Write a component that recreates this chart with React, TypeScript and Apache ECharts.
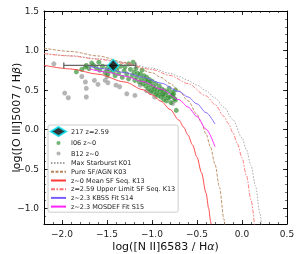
import React, { useEffect, useRef } from "react";
import * as echarts from "echarts";

// ---- axes ----
const xMajor = [-2.0, -1.5, -1.0, -0.5, 0.0, 0.5];
const yMajor = [-1.0, -0.5, 0.0, 0.5, 1.0, 1.5];

// ---- demarcation / fit curves ----
const k01 = [
  [-2.2, 0.962], [-1.9, 0.933], [-1.6, 0.895], [-1.3, 0.845], [-1.0, 0.775],
  [-0.8, 0.71], [-0.7, 0.669], [-0.6, 0.62], [-0.5, 0.561], [-0.4, 0.489],
  [-0.3, 0.398], [-0.2, 0.28], [-0.1, 0.12], [0.0, -0.108], [0.05, -0.262],
  [0.1, -0.459], [0.15, -0.716], [0.2, -1.069], [0.22, -1.25],
];
const k03 = [
  [-2.2, 1.029], [-1.9, 0.987], [-1.6, 0.93], [-1.3, 0.848], [-1.0, 0.719],
  [-0.9, 0.658], [-0.8, 0.582], [-0.7, 0.487], [-0.6, 0.362], [-0.5, 0.191],
  [-0.45, 0.08], [-0.4, -0.056], [-0.35, -0.225], [-0.3, -0.443], [-0.25, -0.733],
  [-0.2, -1.14], [-0.19, -1.242],
];
const k13Mean = [
  [-2.2, 0.812], [-1.9, 0.765], [-1.6, 0.699], [-1.3, 0.6], [-1.1, 0.502],
  [-1.0, 0.437], [-0.9, 0.356], [-0.8, 0.253], [-0.7, 0.116], [-0.65, 0.03],
  [-0.6, -0.073], [-0.55, -0.198], [-0.5, -0.352], [-0.45, -0.549], [-0.4, -0.806],
  [-0.37, -1.003], [-0.35, -1.159], [-0.34, -1.246],
];
const k13Upper = [
  [-2.2, 0.96], [-1.9, 0.929], [-1.6, 0.889], [-1.3, 0.835], [-1.0, 0.757],
  [-0.8, 0.683], [-0.6, 0.58], [-0.4, 0.425], [-0.3, 0.314], [-0.2, 0.165],
  [-0.15, 0.07], [-0.1, -0.045], [-0.05, -0.185], [0.0, -0.361], [0.05, -0.589],
  [0.1, -0.894], [0.14, -1.226],
];
const s14 = [
  [-1.7, 0.8], [-1.5, 0.764], [-1.3, 0.719], [-1.1, 0.661], [-0.9, 0.585],
  [-0.7, 0.48], [-0.6, 0.41], [-0.5, 0.323], [-0.4, 0.212], [-0.3, 0.067],
];
const s15 = [
  [-1.7, 0.767], [-1.5, 0.726], [-1.3, 0.673], [-1.1, 0.605], [-0.9, 0.511],
  [-0.7, 0.376], [-0.6, 0.283], [-0.5, 0.163], [-0.4, 0.003], [-0.3, -0.22],
];

// ---- points ----
const obj217 = [[-1.43, 0.81]];
const obj217Err = [[-1.43, 0.81, -1.98, -1.18]]; // x, y, xLow, xHigh

const i06 = [
  [-1.84, 0.73], [-1.78, 0.76], [-1.74, 0.79], [-1.73, 0.81], [-1.7, 0.77],
  [-1.67, 0.84], [-1.65, 0.81], [-1.62, 0.78], [-1.59, 0.85], [-1.58, 0.75],
  [-1.55, 0.8], [-1.52, 0.72], [-1.5, 0.77], [-1.49, 0.7], [-1.47, 0.75],
  [-1.45, 0.79], [-1.43, 0.73], [-1.41, 0.68], [-1.39, 0.76], [-1.37, 0.71],
  [-1.35, 0.8], [-1.33, 0.66], [-1.31, 0.74], [-1.3, 0.79], [-1.28, 0.7],
  [-1.26, 0.83], [-1.26, 0.64], [-1.24, 0.76], [-1.22, 0.68], [-1.21, 0.85],
  [-1.2, 0.72], [-1.19, 0.62], [-1.18, 0.77], [-1.17, 0.66], [-1.16, 0.71],
  [-1.14, 0.6], [-1.13, 0.7], [-1.12, 0.64], [-1.11, 0.75], [-1.1, 0.58],
  [-1.09, 0.68], [-1.08, 0.62], [-1.07, 0.55], [-1.06, 0.66], [-1.05, 0.6],
  [-1.04, 0.52], [-1.03, 0.63], [-1.02, 0.57], [-1.01, 0.49], [-1.0, 0.61],
  [-0.99, 0.54], [-0.98, 0.47], [-0.97, 0.52], [-0.96, 0.58], [-0.95, 0.45],
  [-0.94, 0.5], [-0.93, 0.43], [-0.92, 0.55], [-0.91, 0.48], [-0.9, 0.41],
  [-0.89, 0.51], [-0.88, 0.45], [-0.87, 0.38], [-0.86, 0.49], [-0.85, 0.43],
  [-0.84, 0.36], [-0.83, 0.47], [-0.82, 0.4], [-0.81, 0.52], [-0.8, 0.41],
  [-0.79, 0.34], [-0.78, 0.47], [-0.77, 0.43], [-0.76, 0.45], [-0.75, 0.39],
  [-0.74, 0.37], [-0.73, 0.24], [-0.74, 0.5],
];
const b12 = [
  [-2.09, 0.83], [-1.97, 0.46], [-1.93, 0.4], [-1.78, 0.67], [-1.74, 0.6],
  [-1.73, 0.52], [-1.73, 0.41], [-1.64, 0.62], [-1.6, 0.57], [-1.52, 0.62],
  [-1.5, 0.67], [-1.49, 0.59], [-1.4, 0.56], [-1.36, 0.54], [-1.28, 0.45],
  [-1.19, 0.43], [-1.13, 0.56], [-1.06, 0.49], [-1.02, 0.47], [-0.97, 0.41],
  [-0.88, 0.44], [-0.77, 0.33],
];

const names = {
  obj: "217 z=2.59",
  i06: "I06 z~0",
  b12: "B12 z~0",
  k01: "Max Starburst K01",
  k03: "Pure SF/AGN K03",
  k13m: "z~0 Mean SF Seq. K13",
  k13u: "z=2.59 Upper Limit SF Seq. K13",
  s14: "z~2.3 KBSS Fit S14",
  s15: "z~2.3 MOSDEF Fit S15",
};

const FONT = "DejaVu Sans";
const fmt = (v: number) => v.toFixed(1).replace("-", "\u2212");
const dotIcon =
  "path://M0,0L0.01,0M10,10L9.99,10M7.3,5A2.3,2.3,0,1,1,2.7,5A2.3,2.3,0,1,1,7.3,5Z";
const noMarker = { color: "rgba(0,0,0,0)", borderColor: "rgba(0,0,0,0)", borderWidth: 0, opacity: 0 };

function minorList(lo: number, hi: number) {
  const out: number[] = [];
  for (let i = Math.round(lo * 10); i <= Math.round(hi * 10); i++) out.push(i / 10);
  return out;
}

export default function App() {
  const ref = useRef<HTMLDivElement>(null);
  useEffect(() => {
    if (!ref.current) return;
    const chart = echarts.init(ref.current, undefined, { renderer: "svg" });
    const xMinor = minorList(-2.2, 0.5);
    const yMinor = minorList(-1.2, 1.5);
    const axisLineStyle = { color: "#000", width: 1 };
    const xBase = { type: "value", min: -2.2, max: 0.5, gridIndex: 0, splitLine: { show: false } };
    const yBase = { type: "value", min: -1.2, max: 1.5, gridIndex: 0, splitLine: { show: false } };
    const majTick = (vals: number[]) => ({
      show: true, inside: true, length: 4, customValues: vals, lineStyle: { color: "#000", width: 0.8 },
    });
    const minTick = (vals: number[]) => ({
      show: true, inside: true, length: 2, customValues: vals, lineStyle: { color: "#000", width: 0.6 },
    });
    const lineSeries = (name: string, data: number[][], color: string, type: any, width = 0.9) => ({
      name, type: "line", data, xAxisIndex: 0, yAxisIndex: 0, symbol: "none", showSymbol: false,
      smooth: 0.3, smoothMonotone: "x", silent: true, z: 3,
      lineStyle: { color, width, type },
      itemStyle: { color },
    });
    const nameStyle = {
      fontSize: 11, color: "#111", fontFamily: FONT,
      rich: { it: { fontStyle: "italic", fontSize: 11, fontFamily: FONT, color: "#111" } },
    };

    chart.setOption({
      animation: false,
      textStyle: { fontFamily: FONT },
      grid: { left: 44, right: 12, top: 11, bottom: 30, containLabel: false, outerBoundsMode: "none" },
      xAxis: [
        {
          ...xBase, position: "bottom",
          axisLine: { show: true, onZero: false, lineStyle: axisLineStyle },
          axisTick: majTick(xMajor),
          axisLabel: { customValues: xMajor, formatter: fmt, fontSize: 9, color: "#222", margin: 5, fontFamily: FONT },
          name: "log([N II]6583 / H{it|α})",
          nameLocation: "middle", nameGap: 17, nameMoveOverlap: false,
          nameTextStyle: nameStyle,
        },
        { ...xBase, position: "bottom", axisLine: { show: false, onZero: false }, axisTick: minTick(xMinor), axisLabel: { show: false } },
        { ...xBase, position: "top", axisLine: { show: true, onZero: false, lineStyle: axisLineStyle }, axisTick: majTick(xMajor), axisLabel: { show: false } },
        { ...xBase, position: "top", axisLine: { show: false, onZero: false }, axisTick: minTick(xMinor), axisLabel: { show: false } },
      ],
      yAxis: [
        {
          ...yBase, position: "left",
          axisLine: { show: true, onZero: false, lineStyle: axisLineStyle },
          axisTick: majTick(yMajor),
          axisLabel: { customValues: yMajor, formatter: fmt, fontSize: 9, color: "#222", margin: 5, fontFamily: FONT },
          name: "log([O III]5007 / H{it|β})",
          nameLocation: "middle", nameGap: 22, nameMoveOverlap: false,
          nameTextStyle: nameStyle,
        },
        { ...yBase, position: "left", axisLine: { show: false, onZero: false }, axisTick: minTick(yMinor), axisLabel: { show: false } },
        { ...yBase, position: "right", axisLine: { show: true, onZero: false, lineStyle: axisLineStyle }, axisTick: majTick(yMajor), axisLabel: { show: false } },
        { ...yBase, position: "right", axisLine: { show: false, onZero: false }, axisTick: minTick(yMinor), axisLabel: { show: false } },
      ],
      legend: {
        orient: "vertical", left: 48, top: 125,
        itemWidth: 15, itemHeight: 9, itemGap: 1.5, itemTextGap: 6,
        padding: [1, 3, 2, 2],
        backgroundColor: "rgba(255,255,255,0.85)", borderColor: "#cccccc", borderWidth: 1, borderRadius: 2,
        selectedMode: false,
        textStyle: { fontSize: 6.5, color: "#222", fontFamily: FONT },
        data: [
          { name: names.obj },
          { name: names.i06, icon: dotIcon },
          { name: names.b12, icon: dotIcon },
          { name: names.k01, itemStyle: noMarker },
          { name: names.k03, itemStyle: noMarker },
          { name: names.k13m, itemStyle: noMarker },
          { name: names.k13u, itemStyle: noMarker },
          { name: names.s14, itemStyle: noMarker },
          { name: names.s15, itemStyle: noMarker },
        ],
        z: 10,
      },
      series: [
        {
          name: names.b12, type: "scatter", data: b12, symbol: "circle", symbolSize: 5, z: 1, silent: true,
          itemStyle: { color: "#a8a8a8", opacity: 0.85 },
        },
        {
          name: names.i06, type: "scatter", data: i06, symbol: "circle", symbolSize: 5, z: 1, silent: true,
          itemStyle: { color: "#2a8a2a", opacity: 0.65 },
        },
        lineSeries(names.k01, k01, "#a0a0a0", [1.5, 1.5]),
        lineSeries(names.k03, k03, "#b8865a", [3, 1.5]),
        lineSeries(names.k13m, k13Mean, "#ff3a3a", "solid"),
        lineSeries(names.k13u, k13Upper, "#ff7070", [4, 1.5, 1.5, 1.5]),
        lineSeries(names.s14, s14, "#7a5cff", "solid"),
        lineSeries(names.s15, s15, "#ff22ff", "solid"),
        {
          name: "err", type: "custom", data: obj217Err, encode: { x: 0, y: 1 }, z: 4, silent: true,
          renderItem: (params: any, api: any) => {
            const y = api.value(1);
            const a = api.coord([api.value(2), y]);
            const b = api.coord([api.value(3), y]);
            const c = 3;
            const style = { stroke: "#666666", lineWidth: 1.3 };
            return {
              type: "group",
              children: [
                { type: "line", shape: { x1: a[0], y1: a[1], x2: b[0], y2: b[1] }, style },
                { type: "line", shape: { x1: a[0], y1: a[1] - c, x2: a[0], y2: a[1] + c }, style },
                { type: "line", shape: { x1: b[0], y1: b[1] - c, x2: b[0], y2: b[1] + c }, style },
              ],
            };
          },
        },
        {
          name: names.obj, type: "scatter", data: obj217, symbol: "diamond", symbolSize: [11, 12], z: 5, silent: true,
          itemStyle: { color: "#000000", borderColor: "#00e0f0", borderWidth: 1.5 },
        },
      ],
    });
    return () => chart.dispose();
  }, []);
  return <div ref={ref} style={{ position: "fixed", left: 0, top: 0, width: 299, height: 254 }} />;
}
